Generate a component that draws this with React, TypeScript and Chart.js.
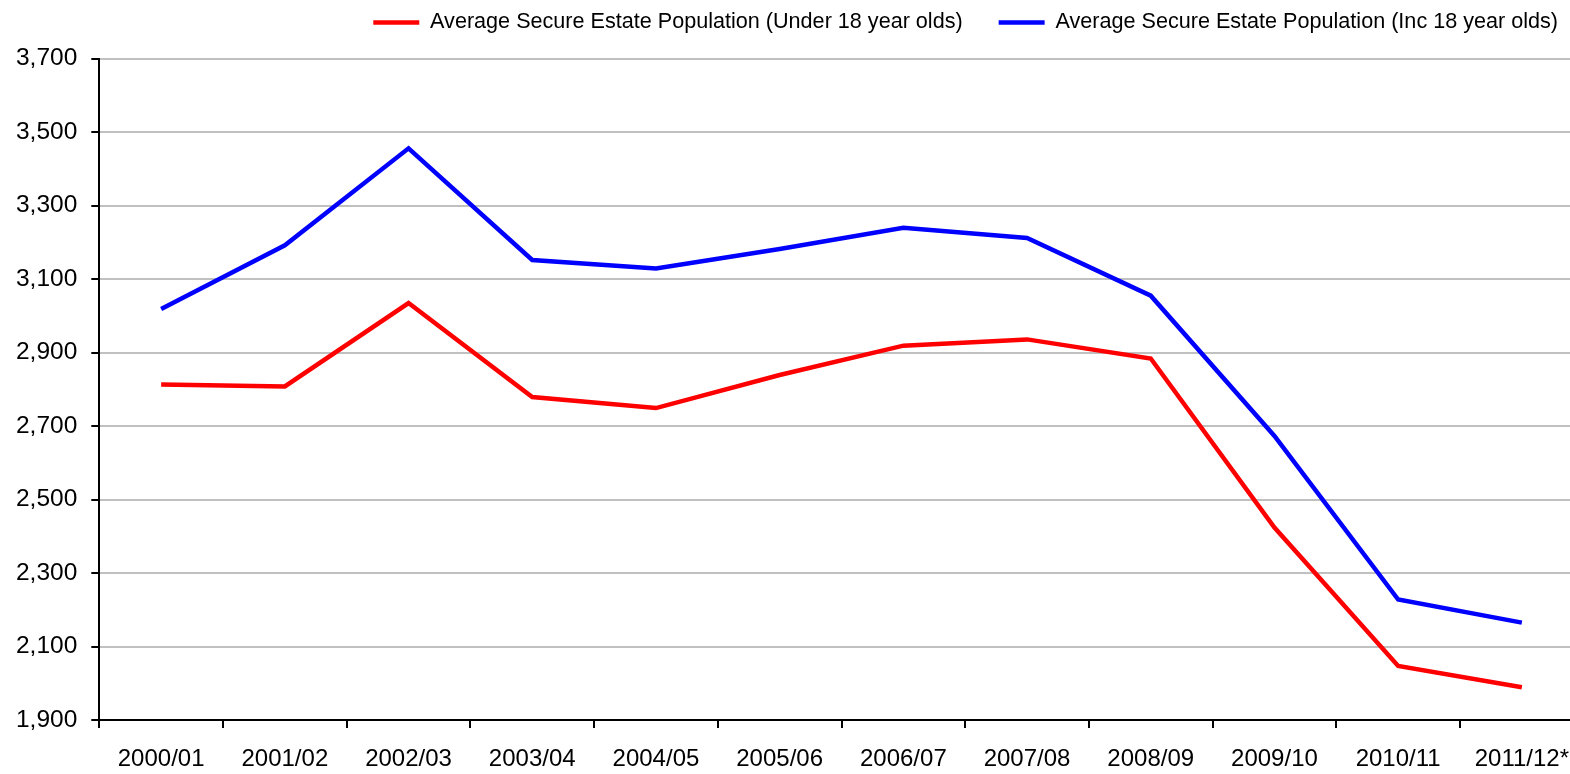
import React, { useEffect, useRef } from 'react';
import { Chart, registerables } from 'chart.js';

Chart.register(...registerables);

// ---- data ----
const categories = [
  '2000/01', '2001/02', '2002/03', '2003/04', '2004/05', '2005/06',
  '2006/07', '2007/08', '2008/09', '2009/10', '2010/11', '2011/12*',
];
const seriesNames = [
  'Average Secure Estate Population (Under 18 year olds)',
  'Average Secure Estate Population (Inc 18 year olds)',
];
const under18 = [2813, 2808, 3035, 2779, 2749, 2839, 2919, 2936, 2884, 2424, 2047, 1989];
const inc18 = [3019, 3192, 3456, 3152, 3129, 3182, 3240, 3212, 3055, 2673, 2228, 2165];
const yMin = 1900;
const yMax = 3700;
const yStep = 200;

// ---- layout constants ----
const FONT = "'Liberation Sans', Arial, Helvetica, sans-serif";
const CAT_W = 123.7; // pixel width of one category band
const PLOT_LEFT = 99.3;
const VIEW_W = 1570;
const CANVAS_W = 1610; // plot continues past the right edge of the picture
const CANVAS_H = 774;
const LEGEND_TOP = -24.3;
const PLOT_TOP = 58.7;
const PLOT_BOTTOM = 720;

export default function App() {
  const ref = useRef<HTMLCanvasElement>(null);

  useEffect(() => {
    const legendFit = {
      id: 'legendFit',
      beforeUpdate(chart: any) {
        const lg = chart.legend;
        if (lg && !lg._fitPatched) {
          const base = lg.fit;
          lg.fit = function () {
            base.call(this);
            if (this.options.display && this.isHorizontal()) {
              this.height = PLOT_TOP - LEGEND_TOP;
              if (this.lineWidths && this.lineWidths.length) this.lineWidths[0] += 16;
            }
          };
          lg._fitPatched = true;
        }
      },
    };

    const xMax = -0.5 + (CANVAS_W - PLOT_LEFT) / CAT_W;

    const chart = new Chart(ref.current as HTMLCanvasElement, {
      type: 'line',
      data: {
        datasets: [
          {
            label: seriesNames[0],
            data: under18.map((v, i) => ({ x: i, y: v })),
            borderColor: '#ff0000',
            backgroundColor: '#ff0000',
            borderWidth: 4.5,
            pointRadius: 0,
            tension: 0,
          },
          {
            label: seriesNames[1],
            data: inc18.map((v, i) => ({ x: i, y: v })),
            borderColor: '#0000ff',
            backgroundColor: '#0000ff',
            borderWidth: 4.5,
            pointRadius: 0,
            tension: 0,
          },
        ],
      },
      options: {
        animation: false,
        responsive: true,
        maintainAspectRatio: false,
        layout: {
          autoPadding: false,
          padding: { top: LEGEND_TOP, right: 0, bottom: 0, left: 0 },
        },
        plugins: {
          tooltip: { enabled: false },
          legend: {
            display: true,
            position: 'top',
            align: 'end',
            labels: {
              usePointStyle: true,
              pointStyle: 'line',
              pointStyleWidth: 46,
              padding: 36,
              color: '#000',
              font: { family: FONT, size: 21.6 },
            },
          },
        },
        scales: {
          x: {
            type: 'linear',
            min: -0.5,
            max: xMax,
            afterBuildTicks: (scale: any) => {
              scale.ticks = categories.concat(['']).map((_, i) => ({ value: i - 0.5 }));
            },
            afterFit: (scale: any) => {
              scale.height = CANVAS_H - PLOT_BOTTOM;
            },
            grid: {
              display: true,
              drawOnChartArea: false,
              drawTicks: true,
              tickLength: 8,
              color: '#000',
              lineWidth: 2,
            },
            border: { display: true, color: '#000', width: 2 },
            ticks: {
              autoSkip: false,
              maxRotation: 0,
              minRotation: 0,
              padding: 17,
              labelOffset: CAT_W / 2,
              color: '#000',
              font: { family: FONT, size: 24 },
              callback: (_v: any, index: number) => categories[index] ?? '',
            },
          },
          y: {
            type: 'linear',
            min: yMin,
            max: yMax,
            afterFit: (scale: any) => {
              scale.width = PLOT_LEFT;
            },
            grid: {
              color: (ctx: any) => (ctx.tick && ctx.tick.value === yMin ? '#000' : '#c0c0c0'),
              lineWidth: 2,
              tickColor: '#000',
              tickLength: 8,
              drawTicks: true,
            },
            border: { display: true, color: '#000', width: 2 },
            ticks: {
              stepSize: yStep,
              padding: 14,
              color: '#000',
              font: { family: FONT, size: 24.5 },
              callback: (v: any) => Number(v).toLocaleString('en-US'),
            },
          },
        },
      },
      plugins: [legendFit],
    } as any);

    return () => chart.destroy();
  }, []);

  return (
    <div
      style={{
        position: 'absolute',
        left: 0,
        top: 0,
        width: VIEW_W,
        height: CANVAS_H,
        overflow: 'hidden',
      }}
    >
      <div style={{ position: 'relative', width: CANVAS_W, height: CANVAS_H }}>
        <canvas ref={ref} />
      </div>
    </div>
  );
}
